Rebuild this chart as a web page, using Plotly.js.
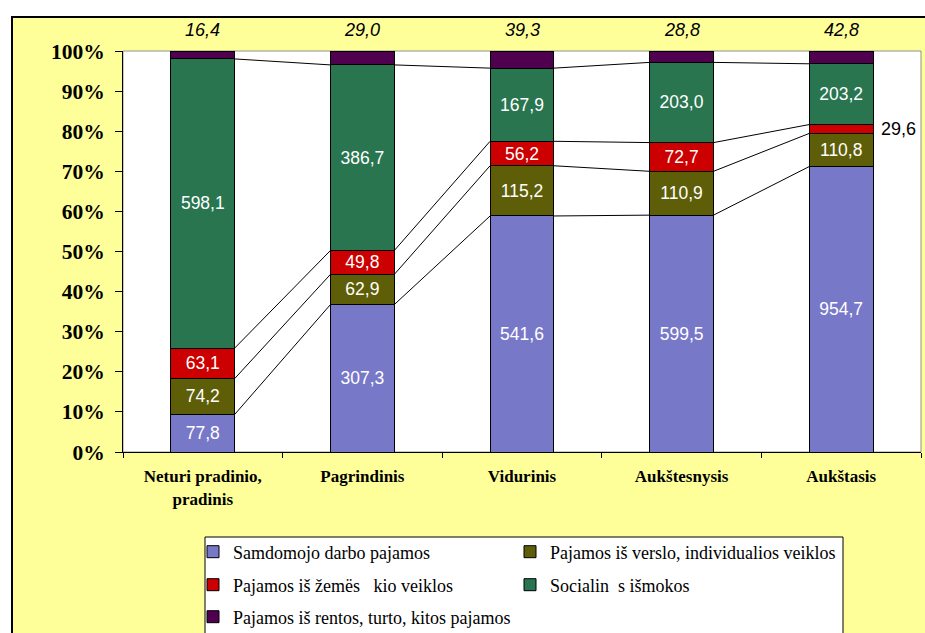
<!DOCTYPE html>
<html>
<head>
<meta charset="utf-8">
<script src="https://cdn.plot.ly/plotly-3.0.1.min.js"></script>
<style>html,body{margin:0;padding:0;background:#fff;}</style>
</head>
<body>
<div id="chart" style="width:925px;height:633px;"></div>
<script>
const categories = ['Neturi pradinio,<br>pradinis', 'Pagrindinis', 'Vidurinis', 'Aukštesnysis', 'Aukštasis'];
const samdomojo = [77.8, 307.3, 541.6, 599.5, 954.7];
const verslo = [74.2, 62.9, 115.2, 110.9, 110.8];
const zemes = [63.1, 49.8, 56.2, 72.7, 29.6];
const socialines = [598.1, 386.7, 167.9, 203.0, 203.2];
const rentos = [16.4, 29.0, 39.3, 28.8, 42.8];
const seriesNames = [
  'Samdomojo darbo pajamos',
  'Pajamos iš verslo, individualios veiklos',
  'Pajamos iš žemës\u00a0\u00a0\u00a0kio veiklos',
  'Socialin\u00a0\u00a0s išmokos',
  'Pajamos iš rentos, turto, kitos pajamos'
];
const yTicks = [0, 10, 20, 30, 40, 50, 60, 70, 80, 90, 100];

const series = [samdomojo, verslo, zemes, socialines, rentos];
const colors = ['#7878c8', '#5e5e08', '#cc0000', '#287550', '#4f004f'];
const legendIds = ['legend', 'legend2', 'legend3', 'legend4', 'legend5'];

const fmt = v => v.toFixed(1).replace('.', ',');
const n = categories.length;
const totals = categories.map((c, i) => series.reduce((s, arr) => s + arr[i], 0));

// plot area in pixels
const L = 123, R = 921, T = 51, B = 452;
const W = 925, H = 633;
const px = x => (x - L) / (R - L);
const py = y => (B - y) / (B - T);
const cx = x => x / W;
const cy = y => 1 - y / H;

const traces = [];
series.forEach((arr, k) => {
  const text = arr.map((v, i) => {
    if (k === 4) return '';
    if (k === 2 && i === 4) return '';
    return fmt(v);
  });
  traces.push({
    type: 'bar',
    name: seriesNames[k],
    x: categories,
    y: arr,
    text: text,
    textposition: 'inside',
    insidetextanchor: 'middle',
    constraintext: 'none',
    textangle: 0,
    textfont: {family: 'Liberation Sans, Arial, sans-serif', size: 17.5, color: '#ffffff'},
    marker: {color: colors[k], line: {color: '#000000', width: 1}},
    width: 0.4,
    legend: legendIds[k],
    hoverinfo: 'skip'
  });
});

// series lines connecting segment boundaries
const halfW = 0.2;
for (let k = 0; k < 4; k++) {
  const cum = categories.map((c, i) => {
    let s = 0;
    for (let j = 0; j <= k; j++) s += series[j][i];
    return s / totals[i] * 100;
  });
  const xs = [], ys = [];
  for (let i = 0; i < n - 1; i++) {
    xs.push(i + halfW, i + 1 - halfW, null);
    ys.push(cum[i], cum[i + 1], null);
  }
  traces.push({
    type: 'scatter', mode: 'lines', x: xs, y: ys,
    xaxis: 'x2', yaxis: 'y',
    line: {color: '#000000', width: 1},
    showlegend: false, hoverinfo: 'skip'
  });
}

const annotations = [];
rentos.forEach((v, i) => {
  annotations.push({
    x: categories[i], y: 100, xref: 'x', yref: 'y',
    text: '<i>' + fmt(v) + '</i>', showarrow: false,
    yanchor: 'bottom', yshift: 9,
    font: {family: 'Liberation Sans, Arial, sans-serif', size: 18, color: '#000000'}
  });
});
// label for thin red segment of last bar
{
  const i = 4;
  const base = (samdomojo[i] + verslo[i]) / totals[i] * 100;
  const mid = base + zemes[i] / totals[i] * 100 / 2;
  annotations.push({
    x: i + halfW, y: mid, xref: 'x2', yref: 'y',
    text: fmt(zemes[i]), showarrow: false, xanchor: 'left', xshift: 6,
    font: {family: 'Liberation Sans, Arial, sans-serif', size: 18, color: '#000000'}
  });
}

const legendFont = {family: 'Liberation Serif, Times New Roman, serif', size: 18, color: '#000000'};
const mkLegend = (x, y) => ({
  orientation: 'v', xref: 'container', yref: 'container', xanchor: 'left', yanchor: 'middle',
  x: cx(x), y: cy(y), bgcolor: 'rgba(0,0,0,0)', borderwidth: 0, font: legendFont
});

const layout = {
  width: W, height: H,
  margin: {l: L, r: W - R, t: T, b: H - B, pad: 0, autoexpand: false},
  paper_bgcolor: '#ffffff',
  plot_bgcolor: '#ffffff',
  barmode: 'stack',
  barnorm: 'percent',
  bargap: 0.6,
  showlegend: true,
  legend: mkLegend(193, 552),
  legend2: mkLegend(510, 552),
  legend3: mkLegend(193, 585),
  legend4: mkLegend(510, 585),
  legend5: mkLegend(193, 617),
  xaxis: {
    type: 'category', range: [-0.5, 4.5], fixedrange: true,
    showline: true, linecolor: '#000000', linewidth: 1,
    ticks: 'outside', ticklen: 5, tickcolor: '#000000', tickson: 'boundaries',
    ticklabelstandoff: 9, automargin: false,
    tickfont: {family: 'Liberation Serif, Times New Roman, serif', size: 17, color: '#000000', weight: 'bold'},
    showgrid: false, zeroline: false
  },
  xaxis2: {overlaying: 'x', range: [-0.5, 4.5], visible: false, fixedrange: true},
  yaxis: {
    range: [0, 100], tickvals: yTicks, ticktext: yTicks.map(v => v + '%'),
    showline: true, linecolor: '#000000', linewidth: 1,
    ticks: 'outside', ticklen: 7, tickcolor: '#000000',
    ticklabelstandoff: 6, automargin: false,
    tickfont: {family: 'Liberation Serif, Times New Roman, serif', size: 21.5, color: '#000000', weight: 'bold'},
    showgrid: false, zeroline: false, fixedrange: true
  },
  shapes: [
    {type: 'rect', xref: 'paper', yref: 'paper', layer: 'below',
     x0: px(12), x1: px(945), y0: py(17), y1: py(660),
     fillcolor: '#ffff99', line: {color: '#000000', width: 2}},
    {type: 'rect', xref: 'paper', yref: 'paper', layer: 'below',
     x0: 0, x1: 1, y0: 0, y1: 1,
     fillcolor: '#ffffff', line: {color: '#909090', width: 1}},
    {type: 'rect', xref: 'paper', yref: 'paper', layer: 'below',
     x0: px(205), x1: px(843), y0: py(537), y1: py(660),
     fillcolor: '#ffffff', line: {color: '#000000', width: 1}}
  ],
  annotations: annotations
};

Plotly.newPlot('chart', traces, layout, {displayModeBar: false, staticPlot: true});
</script>
</body>
</html>
